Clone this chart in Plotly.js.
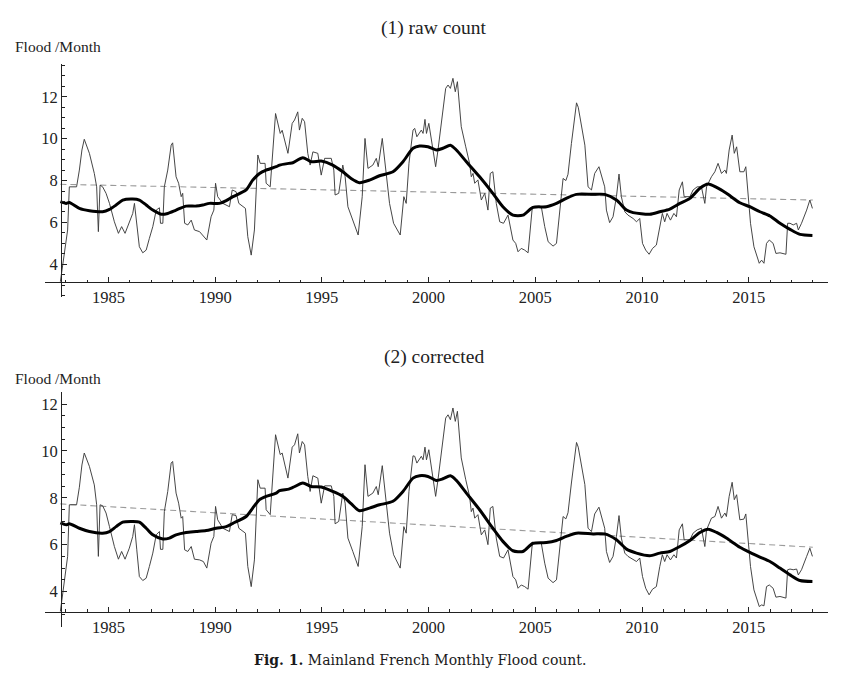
<!DOCTYPE html>
<html>
<head>
<meta charset="utf-8">
<script src="https://cdn.plot.ly/plotly-3.0.1.min.js"></script>
<style>html,body{margin:0;padding:0;background:#fff;}#chart{width:849px;height:676px;}</style>
</head>
<body>
<div id="chart"></div>
<script>
// ---- data ----
const thinYears = [
1982.75,1982.86,1983.09,1983.17,1983.51,1983.64,1983.76,1983.87,1984.11,1984.34,
1984.45,1984.53,1984.61,1984.73,1984.89,1985.05,1985.28,1985.47,1985.62,1985.78,
1985.98,1986.14,1986.22,1986.33,1986.45,1986.61,1986.77,1986.92,1987.08,1987.24,
1987.39,1987.44,1987.55,1987.62,1987.78,1987.94,1988.01,1988.17,1988.29,1988.41,
1988.48,1988.57,1988.72,1988.88,1989.03,1989.27,1989.45,1989.61,1989.81,1989.94,
1990.02,1990.12,1990.36,1990.67,1990.80,1990.98,1991.11,1991.42,1991.53,1991.69,
1991.84,1992.00,1992.11,1992.34,1992.39,1992.58,1992.83,1993.05,1993.14,1993.41,
1993.61,1993.72,1993.87,1993.95,1994.08,1994.19,1994.34,1994.45,1994.58,1994.81,
1994.97,1995.13,1995.44,1995.56,1995.62,1995.79,1995.98,1996.09,1996.22,1996.45,
1996.70,1996.89,1997.02,1997.16,1997.39,1997.55,1997.64,1997.83,1997.98,1998.17,
1998.36,1998.67,1998.84,1998.95,1999.08,1999.27,1999.35,1999.45,1999.66,1999.74,
1999.83,1999.90,2000.01,2000.13,2000.33,2000.44,2000.67,2000.80,2000.91,2001.02,
2001.14,2001.25,2001.35,2001.53,2001.74,2001.92,2002.00,2002.08,2002.16,2002.31,
2002.47,2002.63,2002.78,2002.89,2003.01,2003.17,2003.33,2003.51,2003.72,2003.80,
2003.95,2004.08,2004.19,2004.34,2004.50,2004.66,2004.77,2004.86,2005.28,2005.44,
2005.60,2005.83,2005.99,2006.14,2006.30,2006.43,2006.53,2006.69,2006.93,2007.01,
2007.32,2007.47,2007.63,2007.78,2007.98,2008.25,2008.33,2008.48,2008.64,2008.80,
2008.92,2009.03,2009.19,2009.34,2009.58,2009.74,2009.89,2010.02,2010.17,2010.33,
2010.49,2010.67,2010.83,2010.95,2011.06,2011.17,2011.33,2011.49,2011.61,2011.74,
2011.89,2011.97,2012.24,2012.39,2012.58,2012.78,2012.94,2013.02,2013.25,2013.41,
2013.56,2013.72,2013.88,2013.95,2014.08,2014.22,2014.32,2014.43,2014.58,2014.77,
2014.86,2014.97,2015.08,2015.24,2015.36,2015.49,2015.60,2015.71,2015.83,2015.96,
2016.14,2016.27,2016.46,2016.74,2016.82,2016.93,2017.08,2017.24,2017.32,2017.47,
2017.71,2017.86,2017.98
];
const rawCount = [
3.17,4.05,5.64,7.70,7.70,8.50,9.46,9.97,9.30,8.34,
7.70,5.56,7.78,7.70,7.39,6.91,6.03,5.48,5.80,5.48,
5.96,6.43,6.91,5.96,4.84,4.55,4.68,5.24,5.80,6.59,
6.70,5.96,5.96,7.70,8.50,9.69,9.80,8.18,7.87,7.23,
7.39,5.96,5.88,6.11,5.64,5.56,5.35,5.16,6.27,6.59,
7.87,7.23,6.91,6.75,7.55,7.47,6.91,6.67,5.32,4.44,
5.64,9.22,8.82,8.82,7.87,7.70,11.20,10.25,10.40,9.30,
10.73,10.89,11.28,10.41,10.97,10.81,9.30,8.74,9.37,9.30,
8.26,9.06,9.06,8.50,7.31,7.39,8.74,8.18,6.75,6.11,
5.40,7.23,10.01,8.58,8.74,9.06,8.66,10.01,8.66,6.91,
5.96,5.40,7.23,6.91,8.82,10.41,10.49,10.09,10.41,10.25,
10.92,10.25,10.73,9.93,8.66,9.46,11.37,12.40,12.56,12.40,
12.88,12.24,12.72,10.57,9.61,8.82,8.18,8.34,7.87,8.03,
7.07,7.39,6.59,8.34,8.42,6.91,6.03,5.96,6.35,5.96,
5.16,5.00,4.60,4.76,4.68,4.55,5.88,6.75,6.75,5.80,
5.08,4.87,5.00,6.43,8.10,8.00,8.30,9.77,11.71,11.50,
9.69,7.70,7.55,8.34,8.66,7.70,6.59,5.99,6.27,7.23,
8.31,7.23,6.51,6.35,6.19,6.03,6.19,5.00,4.68,4.48,
4.76,4.92,5.80,6.43,6.03,6.43,6.11,6.43,6.27,7.55,
7.94,7.23,7.23,7.55,7.70,7.70,6.91,7.70,8.18,8.42,
8.82,8.34,8.50,8.34,9.46,10.17,9.30,9.61,8.42,8.42,
8.66,7.39,5.96,4.84,4.40,4.05,4.20,4.05,5.00,5.16,
5.00,4.52,4.55,4.48,5.96,5.96,5.88,5.96,5.64,5.96,
6.59,7.07,6.67
];
const correctedCount = [
3.15,3.93,5.50,7.70,7.70,8.45,9.40,9.91,9.34,8.55,
7.70,5.50,7.70,7.66,7.35,6.77,5.92,5.38,5.71,5.38,
5.85,6.35,6.85,5.78,4.64,4.47,4.57,5.07,5.64,6.42,
6.56,5.80,5.80,7.41,8.27,9.48,9.55,8.20,7.77,7.13,
7.20,5.78,5.71,5.92,5.38,5.35,5.28,5.00,6.06,6.35,
7.63,7.06,6.70,6.56,7.28,7.24,6.70,6.49,5.07,4.21,
5.35,8.77,8.41,8.41,7.49,7.28,10.69,9.84,9.91,8.84,
10.16,10.26,10.73,9.91,10.40,10.26,8.91,8.27,8.94,8.84,
7.77,8.51,8.51,8.06,6.89,6.99,8.20,7.77,6.28,5.71,
5.07,6.77,9.41,8.06,8.20,8.48,8.13,9.37,8.13,6.49,
5.57,5.00,6.77,6.49,8.27,9.79,9.77,9.48,9.77,9.62,
10.16,9.62,10.05,9.34,8.06,8.77,10.48,11.40,11.54,11.33,
11.83,11.26,11.69,9.70,8.77,8.06,7.41,7.56,7.13,7.28,
6.42,6.63,6.00,7.56,7.63,6.28,5.50,5.43,5.78,5.43,
4.64,4.50,4.14,4.28,4.21,4.10,5.35,6.06,6.06,5.21,
4.57,4.38,4.50,5.75,7.20,7.10,7.36,8.63,10.36,10.16,
8.56,6.70,6.56,7.31,7.60,6.70,5.71,5.24,5.50,6.35,
7.24,6.28,5.64,5.50,5.38,5.28,5.43,4.64,4.14,3.86,
4.10,4.21,5.07,5.57,5.28,5.57,5.35,5.57,5.43,6.63,
6.89,6.21,6.21,6.49,6.63,6.70,5.92,6.63,7.13,7.20,
7.63,7.13,7.35,7.20,8.06,8.66,7.92,8.13,7.06,7.09,
7.31,6.21,5.07,4.07,3.72,3.36,3.43,3.39,4.21,4.28,
4.14,3.76,3.79,3.72,4.93,4.96,4.93,4.96,4.71,4.93,
5.50,5.85,5.50
];

const smoothYearsRaw = [
1982.75,1983.02,1983.17,1983.64,1984.11,1984.73,1985.05,1985.36,1985.67,1986.14,
1986.45,1986.77,1987.08,1987.47,1987.78,1988.17,1988.64,1989.11,1989.42,1989.73,
1990.20,1990.52,1990.83,1991.45,1991.76,1992.08,1992.39,1992.86,1993.02,1993.45,
1993.64,1994.11,1994.50,1994.97,1995.51,1995.98,1996.37,1996.76,1997.23,1997.70,
1998.33,1998.80,1999.27,1999.58,1999.97,2000.36,2000.67,2001.02,2001.30,2001.77,
2002.39,2003.01,2003.48,2003.95,2004.42,2004.89,2005.52,2005.99,2006.45,2006.92,
2007.71,2008.25,2008.80,2009.27,2009.58,2010.36,2010.83,2011.30,2011.77,2012.24,
2012.71,2013.10,2013.49,2013.95,2014.58,2015.05,2015.52,2015.99,2016.46,2016.93,
2017.40,2017.98
];
const smoothRaw = [
6.99,6.91,6.95,6.67,6.56,6.51,6.62,6.83,7.07,7.12,
7.07,6.83,6.59,6.39,6.43,6.59,6.78,6.78,6.83,6.91,
6.91,7.04,7.23,7.55,8.02,8.34,8.50,8.66,8.74,8.82,
8.85,9.09,8.90,8.93,8.74,8.42,8.10,7.90,8.02,8.23,
8.42,8.90,9.54,9.65,9.61,9.46,9.54,9.69,9.46,8.90,
8.18,7.39,6.75,6.35,6.35,6.72,6.75,6.91,7.15,7.34,
7.34,7.34,7.07,6.59,6.47,6.39,6.51,6.64,6.91,7.15,
7.63,7.83,7.67,7.39,6.94,6.75,6.51,6.31,5.96,5.67,
5.43,5.38
];
const smoothYearsCorr = [
1982.75,1983.02,1983.17,1983.64,1984.11,1984.73,1985.05,1985.36,1985.67,1986.14,
1986.45,1986.77,1987.08,1987.55,1987.86,1988.17,1988.64,1989.11,1989.58,1990.05,
1990.52,1990.83,1991.45,1991.76,1992.08,1992.39,1992.86,1993.02,1993.45,1993.64,
1994.11,1994.50,1994.97,1995.51,1995.98,1996.37,1996.76,1997.23,1997.70,1998.33,
1998.80,1999.27,1999.58,1999.97,2000.36,2000.67,2001.02,2001.30,2001.77,2002.39,
2003.01,2003.48,2003.95,2004.42,2004.89,2005.52,2005.99,2006.45,2006.92,2007.71,
2008.25,2008.80,2009.27,2009.74,2010.36,2010.83,2011.30,2011.77,2012.24,2012.71,
2013.10,2013.49,2013.95,2014.58,2015.05,2015.52,2015.99,2016.46,2016.93,2017.40,
2017.98
];
const smoothCorr = [
6.93,6.85,6.89,6.70,6.56,6.49,6.56,6.77,6.96,6.99,
6.96,6.70,6.42,6.24,6.28,6.42,6.52,6.56,6.60,6.70,
6.77,6.91,7.20,7.56,7.92,8.06,8.20,8.31,8.37,8.44,
8.63,8.48,8.46,8.27,8.06,7.75,7.45,7.56,7.70,7.85,
8.27,8.84,8.94,8.91,8.74,8.81,8.94,8.74,8.20,7.49,
6.70,6.14,5.74,5.71,6.06,6.09,6.18,6.35,6.49,6.46,
6.46,6.21,5.81,5.64,5.53,5.64,5.71,5.92,6.18,6.52,
6.66,6.52,6.28,5.89,5.67,5.47,5.28,5.00,4.71,4.47,
4.43
];

const trendYears = [1982.75, 2018.0];
const trendRaw = [7.82, 7.07];
const trendCorr = [7.74, 5.89];

const panelTitles = ["(1) raw count", "(2) corrected"];
const yLabel = "Flood /Month";
const caption = "<b>Fig. 1.</b> Mainland French Monthly Flood count.";

// ---- styling / layout ----
const W = 849, H = 676;
const px = v => v / W, py = v => 1 - v / H;
const serif = "Liberation Serif, Times New Roman, serif";
const ink = "#222";

function thin(x, y, xa, ya) {
  return {x, y, xaxis: xa, yaxis: ya, type: 'scatter', mode: 'lines',
    line: {color: '#3c3c3c', width: 0.95}, hoverinfo: 'skip'};
}
function thick(x, y, xa, ya) {
  return {x, y, xaxis: xa, yaxis: ya, type: 'scatter', mode: 'lines',
    line: {color: '#000', width: 3, shape: 'spline', smoothing: 0.7}, hoverinfo: 'skip'};
}
function dashed(x, y, xa, ya) {
  return {x, y, xaxis: xa, yaxis: ya, type: 'scatter', mode: 'lines',
    line: {color: '#9a9a9a', width: 1.1, dash: '6px,4px'}, hoverinfo: 'skip'};
}

const data = [
  dashed(trendYears, trendRaw, 'x', 'y'),
  thin(thinYears, rawCount, 'x', 'y'),
  thick(smoothYearsRaw, smoothRaw, 'x', 'y'),
  dashed(trendYears, trendCorr, 'x2', 'y2'),
  thin(thinYears, correctedCount, 'x2', 'y2'),
  thick(smoothYearsCorr, smoothCorr, 'x2', 'y2')
];

function xAxis(pos) {
  return {
    domain: [px(45), px(828)], range: [1982.03, 2018.71],
    anchor: 'free', position: pos,
    showline: true, linecolor: ink, linewidth: 1,
    showgrid: false, zeroline: false,
    tickmode: 'linear', tick0: 1985, dtick: 5,
    ticks: 'inside', ticklen: 5, tickcolor: ink, tickwidth: 1,
    minor: {ticks: 'inside', ticklen: 2.5, dtick: 1, tick0: 1983, tickcolor: ink, tickwidth: 1, showgrid: false},
    tickfont: {family: serif, size: 16.5, color: ink},
    fixedrange: true
  };
}
function yAxis(dom, range) {
  return {
    domain: dom, range: range,
    anchor: 'free', position: px(61),
    showline: true, linecolor: ink, linewidth: 1,
    showgrid: false, zeroline: false,
    tickmode: 'linear', tick0: 0, dtick: 2,
    ticks: 'inside', ticklen: 5, tickcolor: ink, tickwidth: 1,
    minor: {ticks: 'inside', ticklen: 2.5, dtick: 0.5, tickcolor: ink, tickwidth: 1, showgrid: false},
    tickfont: {family: serif, size: 16.5, color: ink},
    fixedrange: true
  };
}

const layout = {
  width: W, height: H,
  margin: {l: 0, r: 0, t: 0, b: 0},
  paper_bgcolor: '#fff', plot_bgcolor: 'rgba(0,0,0,0)',
  showlegend: false,
  xaxis: xAxis(py(282.3)),
  yaxis: yAxis([py(297), py(64.3)], [2.44, 13.55]),
  xaxis2: xAxis(py(611.7)),
  yaxis2: yAxis([py(626.7), py(392.3)], [2.5, 12.5]),
  annotations: [
    {text: panelTitles[0], x: px(434), y: py(28), xref: 'paper', yref: 'paper', xanchor: 'center', yanchor: 'middle', showarrow: false, font: {family: serif, size: 19.5, color: ink}},
    {text: yLabel, x: px(13), y: py(46), xref: 'paper', yref: 'paper', xanchor: 'left', yanchor: 'middle', showarrow: false, font: {family: serif, size: 15.5, color: ink}},
    {text: panelTitles[1], x: px(434), y: py(357), xref: 'paper', yref: 'paper', xanchor: 'center', yanchor: 'middle', showarrow: false, font: {family: serif, size: 19.5, color: ink}},
    {text: yLabel, x: px(13), y: py(378), xref: 'paper', yref: 'paper', xanchor: 'left', yanchor: 'middle', showarrow: false, font: {family: serif, size: 15.5, color: ink}},
    {text: caption, x: px(420), y: py(660), xref: 'paper', yref: 'paper', xanchor: 'center', yanchor: 'middle', showarrow: false, font: {family: "DejaVu Serif, serif", size: 14, color: '#1a1a1a'}}
  ]
};

Plotly.newPlot('chart', data, layout, {displayModeBar: false, staticPlot: true});
</script>
</body>
</html>
